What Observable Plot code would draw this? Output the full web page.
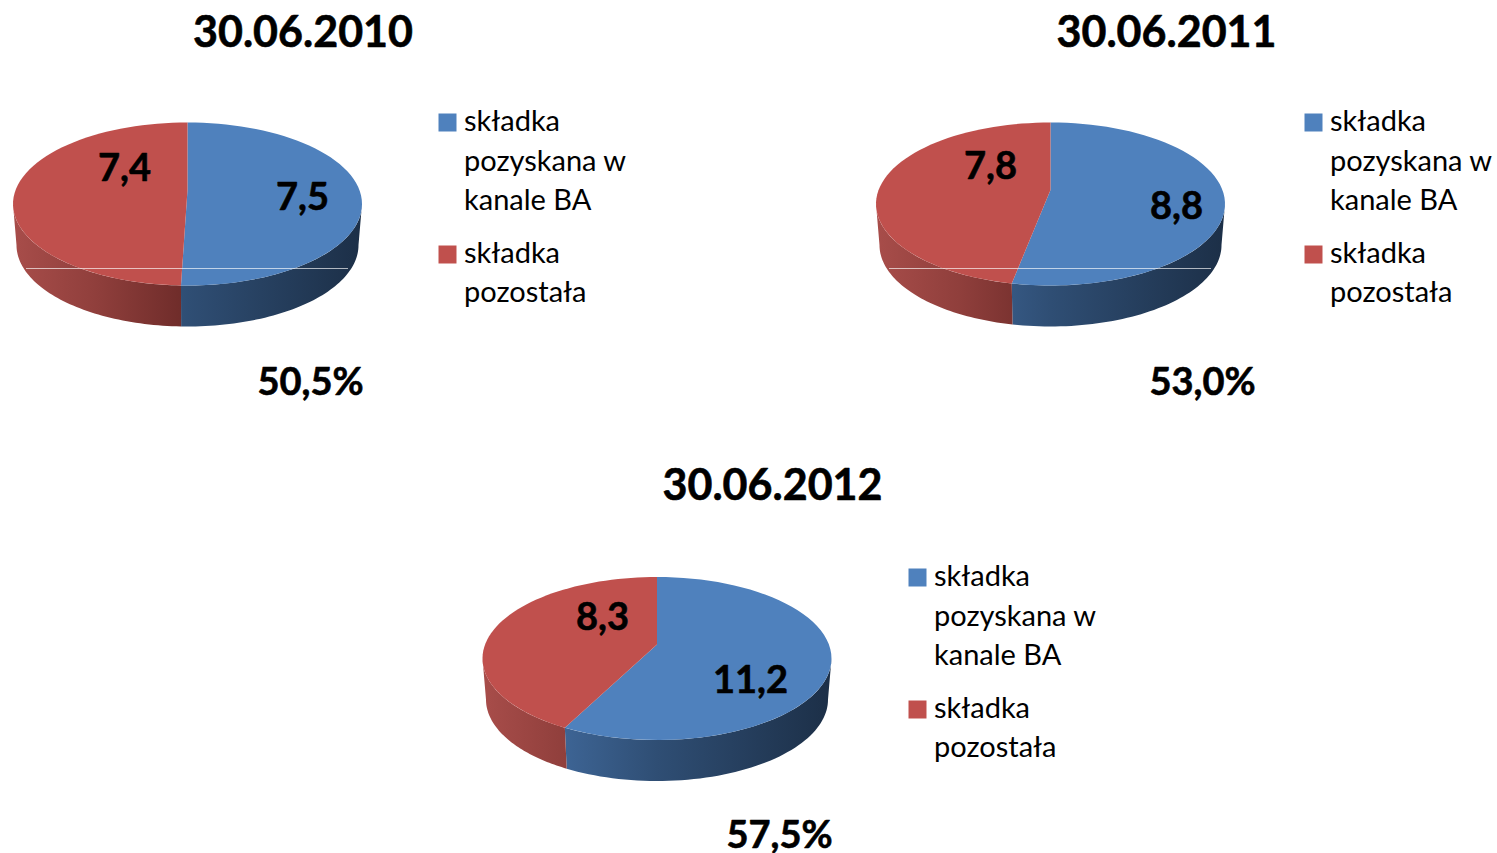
<!DOCTYPE html>
<html><head><meta charset="utf-8">
<script src="https://cdn.jsdelivr.net/npm/d3@7"></script>
<script src="https://cdn.jsdelivr.net/npm/@observablehq/plot@0.6"></script>
<style>html,body{margin:0;padding:0;background:#fff;overflow:hidden}svg{display:block}</style>
</head><body><div id="chart"></div>
<script>
// ---- data ----
const dates = ["30.06.2010", "30.06.2011", "30.06.2012"];
const bancassurance = [7.5, 8.8, 11.2];
const remaining = [7.4, 7.8, 8.3];
const sharePct = [50.5, 53.0, 57.5];
const legendBA = ["składka", "pozyskana w", "kanale BA"];
const legendOther = ["składka", "pozostała"];

// ---- layout (pixels in the page) ----
const W = 1497, H = 853;
const centers = [[187, 203.5], [1050, 203.5], [656.5, 658]];
const titlePos = [[302.5, 33], [1166, 33], [772, 486]];
const pctPos = [[310, 382], [1202, 382], [779, 835]];
const baLabelPos = [[302, 197], [1176, 206], [750, 680]];
const otherLabelPos = [[124, 168], [990, 166], [602, 617]];
const legendX = [438, 1304, 908];
const legendY = [121, 121, 576];
const legendLineYs = [0, 40, 79, 132, 171];
const showSeam = [true, true, false];
const seamY = 268;
const RX = 174.5, RY = 81.5, DEPTH = 41, APEX = 14, SHRINK = 0.98;
const BLUE = "#4f81bd", RED = "#c0504d";

// ---- perspective disc geometry ----
const k = APEX / RY;
const A = RX * Math.sqrt(1 - k * k);
function rim(c, deg, down = 0, shrink = 1) {
  const t = deg * Math.PI / 180, u = Math.sin(t), v = Math.cos(t), d = 1 + k * v;
  return {x: c[0] + shrink * A * u / d, y: c[1] - (RY * v + APEX) / d + down};
}
const apex = c => ({x: c[0], y: c[1] - APEX});
const arc = (a, b) => d3.range(0, 61).map(i => a + (b - a) * i / 60);
function wedge(c, a, b) { return [apex(c), ...arc(a, b).map(d => rim(c, d))]; }
function wall(c, a, b) {
  const top = arc(a, b).map(d => rim(c, d));
  const bot = arc(a, b).map(d => rim(c, d, DEPTH, SHRINK)).reverse();
  return [...top, ...bot];
}
const silhouette = Math.acos(-k) * 180 / Math.PI;
const fmt = v => v.toFixed(1).replace(".", ",");

const blueStops = [[-175, "#4a79b0"], [-92, "#3d6494"], [0, "#2f4e74"], [175, "#1c2f47"]];
const redStops = [[-175, "#a84d4a"], [-92, "#903f3c"], [0, "#6d2b29"], [175, "#5a2422"]];

function gradients(index, scales) {
  const ns = "http://www.w3.org/2000/svg";
  const defs = document.createElementNS(ns, "defs");
  centers.forEach((c, i) => {
    [["b", blueStops], ["r", redStops]].forEach(([id, stops]) => {
      const g = document.createElementNS(ns, "linearGradient");
      g.setAttribute("id", id + i);
      g.setAttribute("gradientUnits", "userSpaceOnUse");
      g.setAttribute("x1", scales.x(c[0] - 175)); g.setAttribute("x2", scales.x(c[0] + 175));
      g.setAttribute("y1", 0); g.setAttribute("y2", 0);
      stops.forEach(([p, col]) => {
        const s = document.createElementNS(ns, "stop");
        s.setAttribute("offset", (p + 175) / 350);
        s.setAttribute("stop-color", col);
        g.appendChild(s);
      });
      defs.appendChild(g);
    });
  });
  return defs;
}

const marks = [gradients];
const poly = (pts, fill) => Plot.line(pts, {x: "x", y: "y", fill, stroke: "none", curve: "linear"});
const FONT = "Lato, Carlito, sans-serif";

dates.forEach((date, i) => {
  const c = centers[i];
  const split = 3.6 * sharePct[i];
  marks.push(poly(wall(c, silhouette, split), `url(#b${i})`));
  marks.push(poly(wall(c, split, 360 - silhouette), `url(#r${i})`));
  marks.push(poly(wedge(c, 0, split), BLUE));
  marks.push(poly(wedge(c, split, 360), RED));
  if (showSeam[i]) marks.push(Plot.ruleY([seamY], {x1: c[0] - 161, x2: c[0] + 161, stroke: "#fff", strokeOpacity: 0.65, strokeWidth: 1}));

  const boldText = (pos, text, fontSize) => Plot.text([text], {x: () => pos[0], y: () => pos[1], text: d => d, fontSize, fontWeight: 700, fontFamily: FONT, fill: "#000", stroke: "#000", strokeWidth: 0.6, textAnchor: "middle", lineAnchor: "middle"});
  marks.push(boldText(titlePos[i], date, 43));
  marks.push(boldText(pctPos[i], fmt(sharePct[i]) + "%", 38));
  marks.push(boldText(baLabelPos[i], fmt(bancassurance[i]), 38));
  marks.push(boldText(otherLabelPos[i], fmt(remaining[i]), 38));

  const lines = [...legendBA, ...legendOther];
  marks.push(Plot.text(lines, {x: () => legendX[i] + 25.5, y: (d, j) => legendY[i] + legendLineYs[j], text: d => d, fontSize: 29, fontFamily: FONT, fill: "#000", textAnchor: "start", lineAnchor: "middle"}));
  marks.push(Plot.dot([BLUE, RED], {x: () => legendX[i] + 9, y: (d, j) => legendY[i] + 1 + legendLineYs[j * 3], symbol: "square", r: 18 / Math.sqrt(Math.PI), fill: d => d, stroke: "none"}));
});

const plot = Plot.plot({
  width: W, height: H,
  marginTop: 0, marginRight: 0, marginBottom: 0, marginLeft: 0,
  x: {domain: [0, W], axis: null},
  y: {domain: [H, 0], axis: null},
  color: {type: "identity"},
  style: {background: "#fff", fontFamily: FONT},
  marks
});
document.getElementById("chart").appendChild(plot);
</script></body></html>
